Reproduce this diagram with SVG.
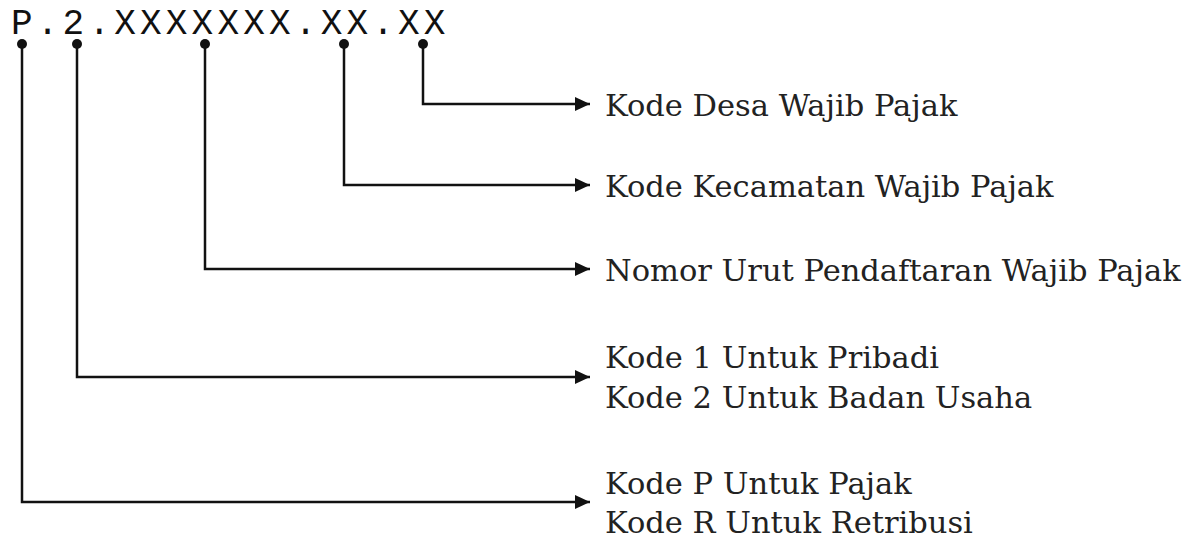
<svg xmlns="http://www.w3.org/2000/svg" width="1197" height="539" viewBox="0 0 1197 539">
<style>
.code{font-family:"Liberation Mono","DejaVu Sans Mono",monospace;font-size:36px;letter-spacing:4.2px;fill:#111}
.lbl{font-family:"DejaVu Serif","Liberation Serif",serif;font-size:30.5px;fill:#222}
.ln{fill:none;stroke:#111;stroke-width:2.5}
.dot{fill:#111}
</style>
<defs>
<marker id="ah" markerUnits="userSpaceOnUse" markerWidth="16" markerHeight="14" refX="15" refY="7" orient="auto">
<path d="M0,0 L15,7 L0,14 Z" fill="#111"/>
</marker>
</defs>
<g id="code"><text class="code" x="11" y="34">P.2.XXXXXXX.XX.XX</text></g>
<g id="connectors">
<path class="ln" d="M423,44 V104 H590" marker-end="url(#ah)"/>
<path class="ln" d="M344,44 V185 H590" marker-end="url(#ah)"/>
<path class="ln" d="M205,44 V269 H590" marker-end="url(#ah)"/>
<path class="ln" d="M77,44 V377 H590" marker-end="url(#ah)"/>
<path class="ln" d="M22,44 V502 H590" marker-end="url(#ah)"/>
<circle class="dot" cx="423" cy="44" r="5"/>
<circle class="dot" cx="344" cy="44" r="5"/>
<circle class="dot" cx="205" cy="44" r="5"/>
<circle class="dot" cx="77" cy="44" r="5"/>
<circle class="dot" cx="22" cy="44" r="5"/>
</g>
<g id="n1"><text class="lbl" x="605" y="116">Kode Desa Wajib Pajak</text></g>
<g id="n2"><text class="lbl" x="605" y="197">Kode Kecamatan Wajib Pajak</text></g>
<g id="n3"><text class="lbl" x="605" y="281">Nomor Urut Pendaftaran Wajib Pajak</text></g>
<g id="n4"><text class="lbl" x="605" y="368">Kode 1 Untuk Pribadi</text><text class="lbl" x="605" y="408">Kode 2 Untuk Badan Usaha</text></g>
<g id="n5"><text class="lbl" x="605" y="494">Kode P Untuk Pajak</text><text class="lbl" x="605" y="533">Kode R Untuk Retribusi</text></g>
</svg>
